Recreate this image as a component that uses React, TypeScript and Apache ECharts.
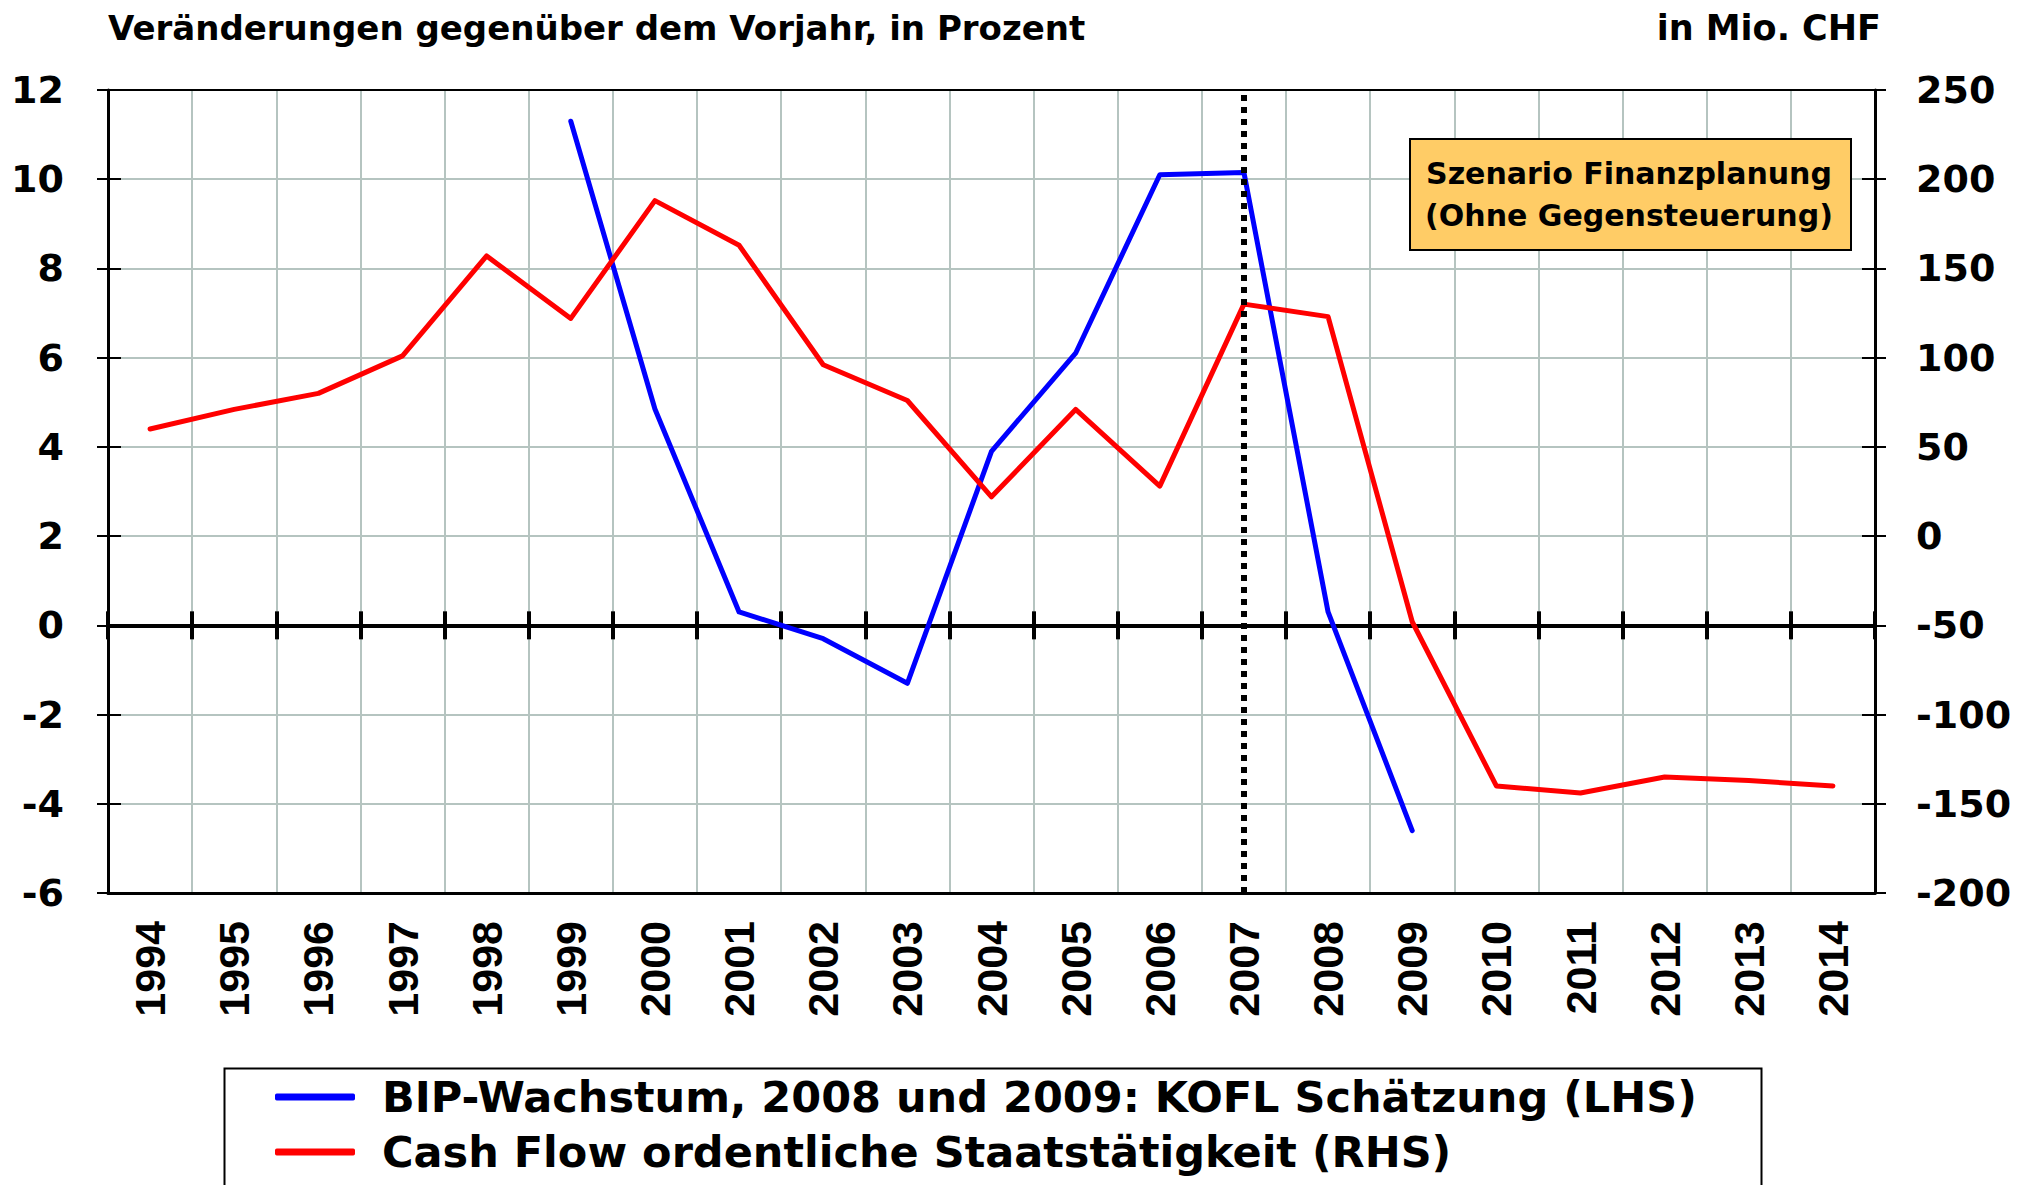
import React, { useEffect, useRef } from "react";
import * as echarts from "echarts";

const years = ["1994","1995","1996","1997","1998","1999","2000","2001","2002","2003","2004","2005","2006","2007","2008","2009","2010","2011","2012","2013","2014"];
const bipGrowth = [null, null, null, null, null, 11.3, 4.85, 0.3, -0.3, -1.3, 3.9, 6.1, 10.1, 10.15, 0.3, -4.6, null, null, null, null, null];
const cashFlow = [60, 71, 80, 101, 157, 122, 188, 163, 96, 76, 22, 71, 28, 130, 123, -48, -140, -144, -135, -137, -140];
const leftTicks = { min: -6, max: 12, interval: 2 };
const rightTicks = { min: -200, max: 250, interval: 50 };
const markYear = "2007";

const titleText = "Veränderungen gegenüber dem Vorjahr, in Prozent";
const unitText = "in Mio. CHF";
const boxText = "Szenario Finanzplanung\n(Ohne Gegensteuerung)";
const seriesNames = ["BIP-Wachstum, 2008 und 2009: KOFL Schätzung (LHS)", "Cash Flow ordentliche Staatstätigkeit (RHS)"];

const WIDE = '"DejaVu Sans", sans-serif';
const ARIAL = '"Liberation Sans", Arial, sans-serif';
const GRID = "#b5c4c0";

export default function App() {
  const ref = useRef<HTMLDivElement>(null);
  useEffect(() => {
    if (!ref.current) return;
    const chart = echarts.init(ref.current, undefined, { renderer: "svg" });
    const xBase = { type: "category", data: years, boundaryGap: true, gridIndex: 0 };
    const yLeft = { type: "value", min: leftTicks.min, max: leftTicks.max, interval: leftTicks.interval };
    const yRight = { type: "value", min: rightTicks.min, max: rightTicks.max, interval: rightTicks.interval };
    const option: any = {
      animation: false,
      backgroundColor: "#fff",
      title: [
        { text: titleText, left: 108, top: 11, padding: 0, textStyle: { fontFamily: WIDE, fontWeight: "bold", fontSize: 34, color: "#000" } },
        { text: unitText, right: 142, top: 10, padding: 0, textStyle: { fontFamily: WIDE, fontWeight: "bold", fontSize: 35, color: "#000" } },
      ],
      grid: { left: 108, top: 90, width: 1767, height: 803, containLabel: false },
      xAxis: [
        {
          ...xBase, position: "bottom",
          axisLine: { onZero: false, lineStyle: { color: "#000", width: 3 } },
          axisTick: { show: false },
          axisLabel: { rotate: 90, margin: 28, fontFamily: ARIAL, fontWeight: "bold", fontSize: 43, color: "#000" },
          splitLine: { show: true, lineStyle: { color: GRID, width: 2 } },
        },
        {
          ...xBase, position: "top",
          axisLine: { onZero: false, lineStyle: { color: "#000", width: 2 } },
          axisTick: { show: false }, axisLabel: { show: false }, splitLine: { show: false },
        },
        {
          ...xBase, position: "bottom",
          axisLine: { onZero: true, onZeroAxisIndex: 0, lineStyle: { color: "#000", width: 4 } },
          axisTick: { show: true, inside: false, length: 14, lineStyle: { color: "#000", width: 4 } },
          axisLabel: { show: false }, splitLine: { show: false },
        },
        {
          ...xBase, position: "bottom",
          axisLine: { onZero: true, onZeroAxisIndex: 0, lineStyle: { color: "#000", width: 4 } },
          axisTick: { show: true, inside: true, length: 14, lineStyle: { color: "#000", width: 4 } },
          axisLabel: { show: false }, splitLine: { show: false },
        },
      ],
      yAxis: [
        {
          ...yLeft, position: "left",
          axisLine: { show: true, onZero: false, lineStyle: { color: "#000", width: 3 } },
          axisTick: { show: true, length: 11, lineStyle: { color: "#000", width: 2 } },
          axisLabel: { margin: 44, fontFamily: WIDE, fontWeight: "bold", fontSize: 38, color: "#000" },
          splitLine: { show: true, lineStyle: { color: GRID, width: 2 } },
        },
        {
          ...yRight, position: "right",
          axisLine: { show: true, onZero: false, lineStyle: { color: "#000", width: 3 } },
          axisTick: { show: true, length: 11, lineStyle: { color: "#000", width: 2 } },
          axisLabel: { margin: 41, fontFamily: WIDE, fontWeight: "bold", fontSize: 38, color: "#000" },
          splitLine: { show: false },
        },
        {
          ...yLeft, position: "left",
          axisLine: { show: false, onZero: false },
          axisTick: { show: true, inside: true, length: 13, lineStyle: { color: "#000", width: 2 } },
          axisLabel: { show: false }, splitLine: { show: false },
        },
        {
          ...yRight, position: "right",
          axisLine: { show: false, onZero: false },
          axisTick: { show: true, inside: true, length: 13, lineStyle: { color: "#000", width: 2 } },
          axisLabel: { show: false }, splitLine: { show: false },
        },
      ],
      legend: {
        orient: "vertical",
        left: 275,
        top: 1074,
        padding: 0,
        itemGap: 9,
        itemWidth: 80,
        itemHeight: 7,
        icon: "roundRect",
        textStyle: { fontFamily: WIDE, fontWeight: "bold", fontSize: 43, color: "#000", lineHeight: 46, padding: [0, 0, 0, 22] },
        data: seriesNames,
      },
      graphic: [
        {
          type: "rect", left: 222, top: 1066,
          shape: { width: 1537, height: 160 },
          style: { fill: "none", stroke: "#000", lineWidth: 2 },
          z: 0,
        },
        {
          type: "rect", left: 1409, top: 138,
          shape: { width: 441, height: 111 },
          style: { fill: "#ffcc66", stroke: "#000", lineWidth: 2 },
          z: 10,
        },
        {
          type: "text", x: 1629, y: 194, z: 11,
          style: { text: boxText, fontFamily: WIDE, fontWeight: "bold", fontSize: 30, lineHeight: 42, fill: "#000", align: "center", verticalAlign: "middle" },
        },
      ],
      series: [
        {
          name: seriesNames[0],
          type: "line",
          xAxisIndex: 0, yAxisIndex: 0,
          data: bipGrowth,
          showSymbol: false, symbol: "none",
          connectNulls: false,
          itemStyle: { color: "#0000ff" },
          lineStyle: { color: "#0000ff", width: 5, cap: "round", join: "round" },
          z: 3,
          markLine: {
            silent: true, symbol: ["none", "none"], label: { show: false },
            lineStyle: { color: "#000", width: 6, type: [6, 6], cap: "butt" },
            data: [{ xAxis: markYear }],
            z: 5,
          },
        },
        {
          name: seriesNames[1],
          type: "line",
          xAxisIndex: 0, yAxisIndex: 1,
          data: cashFlow,
          showSymbol: false, symbol: "none",
          itemStyle: { color: "#ff0000" },
          lineStyle: { color: "#ff0000", width: 5, cap: "round", join: "round" },
          z: 3,
        },
      ],
    };
    chart.setOption(option);
    return () => chart.dispose();
  }, []);
  return <div ref={ref} style={{ position: "fixed", left: 0, top: 0, width: 2023, height: 1185, background: "#fff" }} />;
}
